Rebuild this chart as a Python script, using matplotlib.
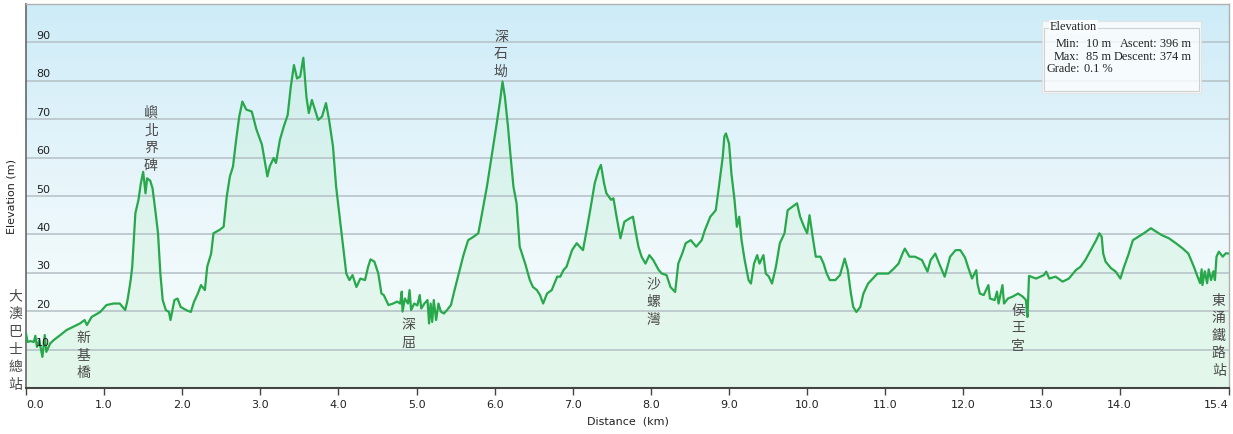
import numpy as np
import matplotlib
matplotlib.use("Agg")
import matplotlib.pyplot as plt
from matplotlib.colors import LinearSegmentedColormap
from matplotlib.patches import Rectangle
import matplotlib.transforms as mtransforms

# ---------------- data (profile, in segments) ----------------
dist_a = [
    0.00, 0.02, 0.06, 0.10, 0.12, 0.14, 0.17, 0.21, 0.24, 0.26, 0.31, 0.35, 0.44, 0.52, 0.61, 0.69,
    0.75, 0.78, 0.84, 0.95, 1.03, 1.12, 1.20, 1.27, 1.30, 1.34, 1.36, 1.40, 1.44, 1.47, 1.50, 1.53,
    1.55, 1.59, 1.62, 1.66, 1.69, 1.72, 1.75, 1.79, 1.83, 1.85, 1.90, 1.94, 1.98, 2.05, 2.11, 2.15,
    2.20, 2.24, 2.29, 2.32, 2.37, 2.40, 2.48, 2.53, 2.57, 2.61, 2.65, 2.69, 2.73, 2.77, 2.82, 2.89,
    2.95, 3.02, 3.06, 3.09, 3.12, 3.17, 3.20, 3.25, 3.30, 3.35, 3.39, 3.43, 3.47, 3.51, 3.55, 3.59,
    3.62, 3.66, 3.70, 3.74, 3.79, 3.84, 3.88, 3.93, 3.97, 4.01, 4.04, 4.06, 4.10, 4.14, 4.18, 4.23,
    4.28, 4.34, 4.38, 4.41, 4.46, 4.51,
]
elev_a = [
    14.2, 12.0, 12.2, 12.0, 13.6, 10.7, 12.4, 8.1, 13.8, 9.4, 11.6, 12.4, 13.8, 15.1, 16.0, 16.8,
    17.7, 16.4, 18.5, 19.8, 21.6, 22.0, 22.0, 20.3, 22.9, 28.1, 31.6, 45.5, 49.0, 53.3, 56.3, 50.7,
    54.6, 54.0, 52.0, 45.5, 40.3, 29.8, 22.9, 20.3, 19.8, 17.7, 22.9, 23.3, 21.1, 20.3, 19.8, 22.4,
    24.6, 26.8, 25.5, 31.6, 35.0, 40.3, 41.2, 42.0, 49.9, 55.1, 57.7, 64.6, 70.7, 74.6, 72.5, 72.0,
    67.3, 63.4, 58.6, 55.1, 57.7, 59.9, 58.6, 64.6, 68.1, 71.1, 78.5, 84.1, 80.6, 81.1, 86.0, 75.8,
    71.6, 75.0, 72.4, 69.8, 70.7, 74.2, 69.8, 62.9, 52.4, 45.5, 40.3, 36.8, 29.8, 28.1, 29.4, 26.3,
    28.5, 28.1, 31.6, 33.5, 32.9, 29.8,
]
dist_b = [
    4.55, 4.58, 4.64, 4.70, 4.75, 4.79, 4.81, 4.82, 4.85, 4.89, 4.91, 4.93, 4.97, 5.01, 5.04, 5.06,
    5.10, 5.14, 5.16, 5.18, 5.20, 5.22, 5.25, 5.28, 5.31, 5.35, 5.39, 5.44, 5.48,
]
elev_b = [
    24.6, 24.2, 21.6, 22.0, 22.5, 22.0, 25.1, 19.9, 23.3, 22.0, 25.5, 20.3, 22.0, 21.5, 24.2, 20.7,
    22.0, 22.9, 16.8, 22.0, 17.2, 22.9, 17.7, 22.0, 19.9, 19.4, 20.3, 21.6, 25.0,
]
dist_c = [
    5.54, 5.60, 5.66, 5.73, 5.79, 5.83, 5.90, 5.96, 6.02, 6.07, 6.10, 6.13, 6.17, 6.20, 6.24, 6.28,
    6.32, 6.39, 6.45, 6.49, 6.54, 6.58, 6.62, 6.67, 6.73, 6.80, 6.84, 6.88, 6.92, 6.99, 7.05, 7.13,
    7.17, 7.23, 7.28, 7.33, 7.36, 7.40, 7.43, 7.49, 7.52, 7.56, 7.61, 7.66, 7.73, 7.77, 7.80, 7.84,
    7.88, 7.93, 7.98, 8.03, 8.10, 8.14, 8.20, 8.25, 8.31, 8.35, 8.40, 8.445, 8.51, 8.58, 8.65, 8.69,
    8.76, 8.83, 8.87, 8.92, 8.94, 8.96, 9.00, 9.03, 9.07, 9.10, 9.13, 9.16, 9.20, 9.25, 9.28, 9.32,
    9.36, 9.39, 9.44, 9.47, 9.51, 9.55, 9.60, 9.65, 9.71, 9.75, 9.81, 9.87, 9.91, 9.96, 10.00, 10.03,
    10.07, 10.11, 10.17, 10.21, 10.25, 10.29, 10.36, 10.42, 10.48, 10.52, 10.56, 10.59, 10.63, 10.68, 10.72, 10.78,
    10.84, 10.90, 10.97, 11.04, 11.11, 11.17, 11.22, 11.25, 11.31, 11.38, 11.47, 11.54, 11.58, 11.64, 11.69, 11.76,
    11.83, 11.90,
]
elev_c = [
    29.8, 34.6, 38.5, 39.4, 40.3, 44.6, 52.4, 60.3, 68.1, 75.0, 79.8, 75.9, 68.1, 61.1, 52.4, 48.1,
    36.8, 32.4, 28.1, 26.3, 25.5, 24.2, 22.0, 24.6, 25.5, 29.0, 29.0, 30.7, 31.6, 35.9, 37.7, 35.9,
    40.3, 47.2, 53.3, 56.8, 58.1, 53.3, 50.7, 49.0, 49.4, 44.6, 39.0, 43.3, 44.2, 44.6, 41.1, 36.8,
    34.2, 32.4, 34.6, 33.3, 30.7, 29.8, 29.4, 26.3, 25.0, 32.4, 35.0, 37.7, 38.5, 36.8, 38.5, 41.1,
    44.6, 46.3, 52.4, 60.3, 65.5, 66.3, 63.7, 55.9, 49.0, 42.0, 44.6, 38.5, 33.3, 28.1, 27.2, 32.4,
    34.6, 32.4, 34.6, 29.8, 29.0, 27.2, 31.6, 37.7, 40.3, 46.3, 47.2, 48.1, 44.6, 42.0, 40.3, 45.0,
    39.4, 34.2, 34.2, 32.4, 29.8, 28.1, 28.1, 29.4, 33.7, 30.7, 24.6, 21.1, 19.8, 21.1, 24.6, 27.2,
    28.5, 29.8, 29.8, 29.8, 31.1, 32.4, 35.0, 36.3, 34.2, 34.2, 33.3, 30.3, 33.3, 35.0, 32.4, 29.0,
    34.2, 35.9,
]
dist_d = [
    11.96, 12.02, 12.06, 12.11, 12.165, 12.18, 12.21, 12.26, 12.32, 12.34, 12.40, 12.43, 12.45, 12.50, 12.52, 12.57,
    12.63, 12.70, 12.76, 12.80, 12.82, 12.84, 12.93, 13.03, 13.06, 13.10, 13.18, 13.27, 13.35, 13.44, 13.50, 13.56,
    13.63, 13.70, 13.74, 13.77, 13.79, 13.82, 13.89, 13.95, 14.01, 14.05, 14.11, 14.17, 14.24, 14.31, 14.40, 14.47,
    14.54, 14.63, 14.72, 14.81, 14.88, 14.95, 14.99, 15.03, 15.05, 15.06, 15.09, 15.12, 15.14, 15.17, 15.20, 15.22,
    15.24, 15.27, 15.32, 15.36, 15.40,
]
elev_d = [
    35.9, 34.0, 31.5, 28.5, 30.7, 27.2, 24.6, 24.2, 26.8, 23.3, 22.9, 25.1, 22.0, 26.8, 22.0, 23.3,
    23.8, 24.6, 23.8, 22.9, 18.5, 29.2, 28.5, 29.4, 30.3, 28.5, 29.0, 27.7, 28.5, 30.7, 31.6, 33.3,
    35.9, 38.5, 40.3, 39.4, 35.0, 32.9, 31.2, 30.3, 28.5, 31.2, 34.6, 38.5, 39.4, 40.3, 41.6, 40.7,
    39.8, 39.0, 37.7, 36.3, 35.0, 31.6, 29.4, 27.3, 30.9, 26.8, 30.4, 27.3, 30.9, 28.1, 30.4, 28.1,
    34.2, 35.5, 34.2, 35.1, 35.0,
]
dist_km = dist_a + dist_b + dist_c + dist_d
elev_m = elev_a + elev_b + elev_c + elev_d
assert len(dist_km) == len(elev_m)

x_ticks = [0, 1, 2, 3, 4, 5, 6, 7, 8, 9, 10, 11, 12, 13, 14, 15.4]
x_tick_labels = ["0.0", "1.0", "2.0", "3.0", "4.0", "5.0", "6.0", "7.0", "8.0", "9.0",
                 "10.0", "11.0", "12.0", "13.0", "14.0", "15.4"]
y_ticks = [10, 20, 30, 40, 50, 60, 70, 80, 90]
y_tick_labels = ["10", "20", "30", "40", "50", "60", "70", "80", "90"]

place_names = ["新基橋", "嶼北界碑", "深屈", "深石坳", "沙螺灣", "侯王宮", "東涌鐵路站", "大澳巴士總站"]
place_km = [0.74, 1.60, 4.89, 6.08, 8.03, 12.70, 15.27, -0.14]
place_elev = [8.5, 64.8, 14.0, 86.9, 22.4, 15.6, 13.6, 12.3]

stat_min, stat_max = "10 m", "85 m"
stat_ascent, stat_descent = "396 m", "374 m"
stat_grade = "0.1 %"

# ---------------- figure ----------------
W, H = 1233, 434
fig = plt.figure(figsize=(W / 100, H / 100), dpi=100)
fig.patch.set_facecolor("white")
ax_l, ax_r, ax_t, ax_b = 26, 1229, 4, 388
ax = fig.add_axes([ax_l / W, 1 - ax_b / H, (ax_r - ax_l) / W, (ax_b - ax_t) / H])
ax.set_xlim(0, 15.4)
ax.set_ylim(0, 100)

cmap = LinearSegmentedColormap.from_list(
    "bg", [(0.0, "#f2fcf5"), (0.3, "#f1fafc"), (0.55, "#e7f5fb"), (1.0, "#cdecf8")])
grad = np.linspace(0, 1, 256).reshape(-1, 1)
ax.imshow(grad, extent=[0, 15.4, 0, 100], origin="lower", aspect="auto",
          cmap=cmap, zorder=0, interpolation="bilinear")

ax.fill_between(dist_km, elev_m, 0, color="#bcefcc", alpha=0.28, lw=0, zorder=1)
for v in y_ticks:
    ax.axhline(v, color="#b8c4ca", lw=1.2, zorder=2)
ax.plot(dist_km, elev_m, color="#27a84a", lw=1.6, zorder=3, solid_joinstyle="round")

# spines
for s in ("top", "right"):
    ax.spines[s].set_color("#b0b0b0")
    ax.spines[s].set_linewidth(1.0)
ax.spines["left"].set_color("#666666")
ax.spines["left"].set_linewidth(1.2)
ax.spines["bottom"].set_color("#444444")
ax.spines["bottom"].set_linewidth(1.5)

# x ticks
ax.set_xticks(x_ticks)
ax.set_xticklabels(x_tick_labels, fontsize=8, color="#222222", family="DejaVu Sans")
ax.tick_params(axis="x", direction="out", length=5, width=1, color="#444444", pad=4)
xl = ax.get_xticklabels()
xl[0].set_horizontalalignment("left")
xl[-1].set_horizontalalignment("right")
ax.set_xlabel("Distance  (km)", fontsize=8, color="#222222", labelpad=4)

# y ticks drawn inside
ax.set_yticks([])
trans = mtransforms.blended_transform_factory(ax.transAxes, ax.transData)
for v, lab in zip(y_ticks, y_tick_labels):
    ax.text(0.0085, v + 0.9, lab, transform=trans, fontsize=8, color="#222222",
            ha="left", va="baseline", zorder=4)
ax.set_ylabel("Elevation (m)", fontsize=8, color="#222222")
ax.yaxis.set_label_coords(-(ax_l - 17) / (ax_r - ax_l), 0.5)

# place names (vertical text)
cjk = ["Noto Sans CJK TC", "DejaVu Sans"]
for name, xk, ye in zip(place_names, place_km, place_elev):
    ax.text(xk, ye, "\n".join(name), fontsize=10, family=cjk, color="#4a4a4a",
            ha="center", va="center", linespacing=1.33, zorder=5, clip_on=False)

# stats box
def fx(px):
    return px / W

def fy(py):
    return 1 - py / H

fig.patches.append(Rectangle((fx(1042), fy(93)), (1201 - 1042) / W, (93 - 21) / H,
                             transform=fig.transFigure, facecolor="white", alpha=0.8,
                             edgecolor="#e2e2e2", lw=1.0, zorder=10))
fig.patches.append(Rectangle((fx(1044), fy(91)), (1199 - 1044) / W, (91 - 28) / H,
                             transform=fig.transFigure, facecolor="none",
                             edgecolor="#d0d0d0", lw=0.8, zorder=11))
serif = "Liberation Serif"
fs = 8.8
fig.text(fx(1050), fy(27), "Elevation", fontsize=fs, family=serif, color="#222222",
         ha="left", va="center", zorder=12,
         bbox=dict(facecolor="#f9fcfd", edgecolor="none", pad=0.6))
rows = [
    (44, "Min:", stat_min, "Ascent:", stat_ascent),
    (57, "Max:", stat_max, "Descent:", stat_descent),
]
for py, a, b, c, d in rows:
    fig.text(fx(1080), fy(py), a, fontsize=fs, family=serif, color="#222222", ha="right", va="center", zorder=12)
    fig.text(fx(1086), fy(py), b, fontsize=fs, family=serif, color="#222222", ha="left", va="center", zorder=12)
    fig.text(fx(1157), fy(py), c, fontsize=fs, family=serif, color="#222222", ha="right", va="center", zorder=12)
    fig.text(fx(1160), fy(py), d, fontsize=fs, family=serif, color="#222222", ha="left", va="center", zorder=12)
fig.text(fx(1080), fy(69), "Grade:", fontsize=fs, family=serif, color="#222222", ha="right", va="center", zorder=12)
fig.text(fx(1084), fy(69), stat_grade, fontsize=fs, family=serif, color="#222222", ha="left", va="center", zorder=12)

fig.savefig("out.png", dpi=100, facecolor="white")
